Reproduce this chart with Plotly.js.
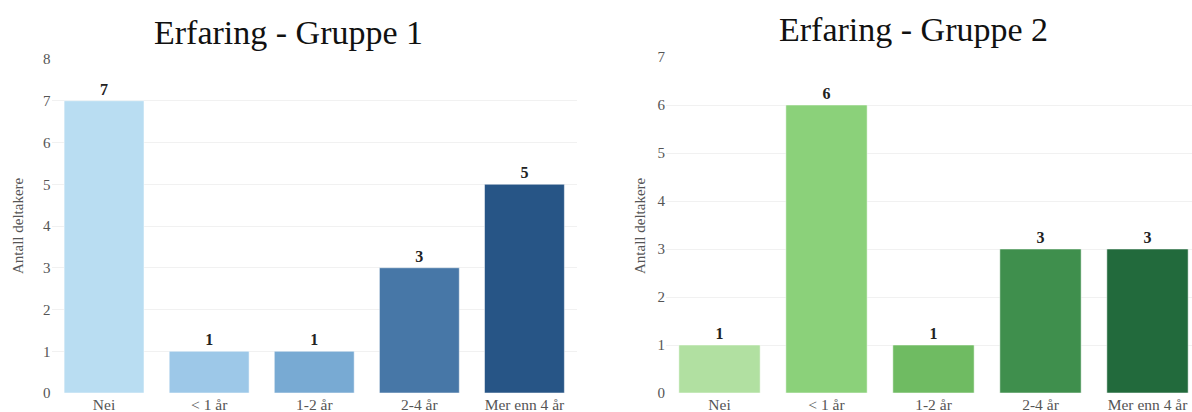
<!DOCTYPE html>
<html>
<head>
<meta charset="utf-8">
<script src="https://cdn.plot.ly/plotly-3.0.1.min.js"></script>
<style>html,body{margin:0;padding:0;background:#fff}#chart{width:1192px;height:412px}</style>
</head>
<body>
<div id="chart"></div>
<script>
const categories = ["Nei", "< 1 år", "1-2 år", "2-4 år", "Mer enn 4 år"];
const group1Values = [7, 1, 1, 3, 5];
const group2Values = [1, 6, 1, 3, 3];
const group1Colors = ["#b9ddf2", "#9dc8e8", "#78aad3", "#4777a7", "#275586"];
const group2Colors = ["#b1e0a1", "#8bd17a", "#6fbb62", "#3f8f4d", "#226a3c"];
const title1 = "Erfaring - Gruppe 1";
const title2 = "Erfaring - Gruppe 2";
const yTitle = "Antall deltakere";

const W = 1192, H = 412;
const fx = px => px / W;
const fy = py => (H - py) / H;

const serif = "Liberation Serif";

const traces = [
  {
    type: "bar", x: categories, y: group1Values, xaxis: "x", yaxis: "y",
    marker: {color: group1Colors, line: {color: "rgba(255,255,255,0.5)", width: 1}},
    text: group1Values.map(String), textposition: "outside", cliponaxis: false,
    textfont: {family: serif, size: 16, color: "#222", weight: "bold"},
    hoverinfo: "none"
  },
  {
    type: "bar", x: categories, y: group2Values, xaxis: "x2", yaxis: "y2",
    marker: {color: group2Colors, line: {color: "rgba(255,255,255,0.5)", width: 1}},
    text: group2Values.map(String), textposition: "outside", cliponaxis: false,
    textfont: {family: serif, size: 16, color: "#222", weight: "bold"},
    hoverinfo: "none"
  }
];

function xAxis(domain, anchor, range) {
  return {domain: domain, anchor: anchor, range: range, showgrid: false, showline: false, zeroline: false, ticks: "",
          tickfont: {family: serif, size: 15.5, color: "#555"}};
}
function yAxis(domain, anchor, range) {
  return {domain: domain, anchor: anchor, range: range, dtick: 1, showgrid: true, gridcolor: "#f1f1f1", gridwidth: 1,
          showline: false, zeroline: false, ticks: "",
          tickfont: {family: serif, size: 15, color: "#555"}};
}

const layout = {
  width: W, height: H,
  margin: {l: 0, r: 0, t: 0, b: 0},
  paper_bgcolor: "#fff", plot_bgcolor: "#fff",
  showlegend: false,
  bargap: 0.24,
  font: {family: serif, color: "#555"},
  xaxis: xAxis([fx(51.5), fx(577)], "y", [-0.5, 4.5]),
  yaxis: yAxis([fy(393), fy(59)], "x", [0, 8]),
  xaxis2: xAxis([fx(666), 1], "y2", [-0.5, 4.416]),
  yaxis2: yAxis([fy(393), fy(57)], "x2", [0, 7]),
  annotations: [
    {text: title1, xref: "paper", yref: "paper", x: fx(288.5), y: fy(33), xanchor: "center", yanchor: "middle", showarrow: false, font: {family: serif, size: 34, color: "#111"}},
    {text: title2, xref: "paper", yref: "paper", x: fx(913), y: fy(30), xanchor: "center", yanchor: "middle", showarrow: false, font: {family: serif, size: 34, color: "#111"}},
    {text: yTitle, xref: "paper", yref: "paper", x: fx(18), y: fy(226), xanchor: "center", yanchor: "middle", textangle: -90, showarrow: false, font: {family: serif, size: 15, color: "#555"}},
    {text: yTitle, xref: "paper", yref: "paper", x: fx(640), y: fy(226), xanchor: "center", yanchor: "middle", textangle: -90, showarrow: false, font: {family: serif, size: 15, color: "#555"}}
  ]
};

Plotly.newPlot("chart", traces, layout, {staticPlot: true, displayModeBar: false});
</script>
</body>
</html>
